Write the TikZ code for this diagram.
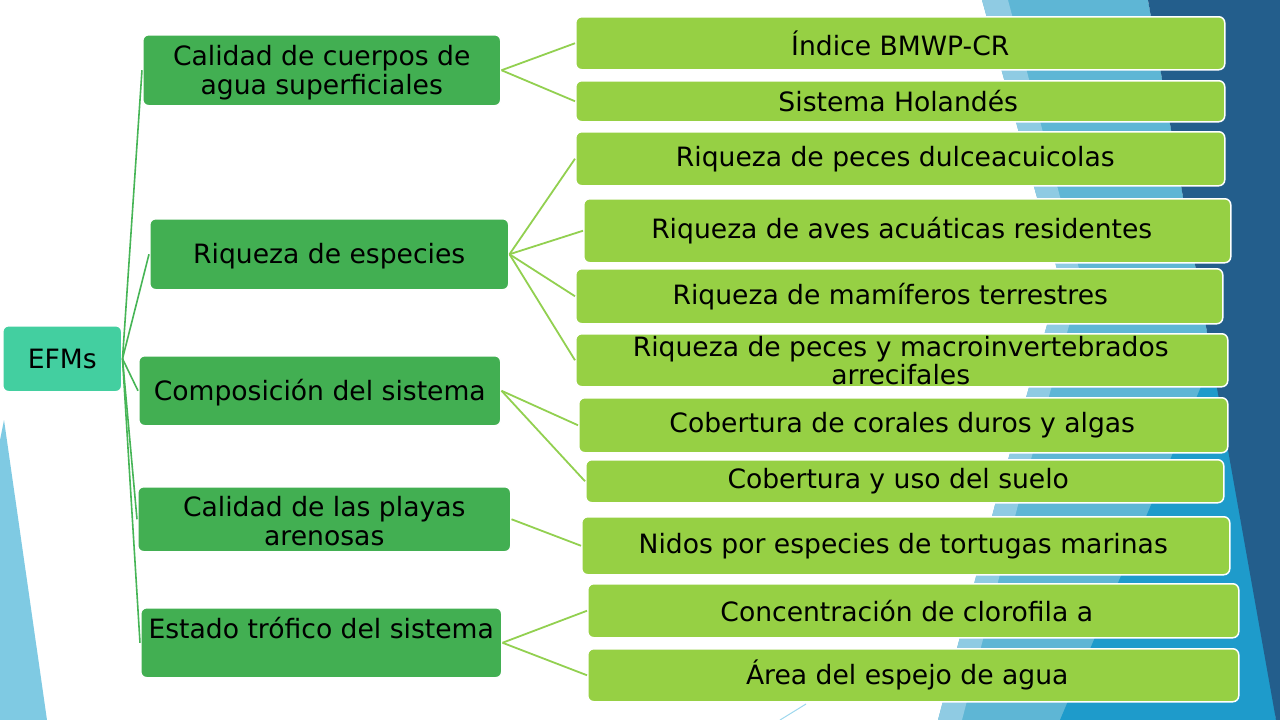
\documentclass[tikz,border=0pt]{standalone}
\usepackage{fontspec}
\setmainfont{DejaVu Sans}
\definecolor{efmcol}{HTML}{43CFA0}
\definecolor{lvtwocol}{HTML}{42AF52}
\definecolor{lvthreecol}{HTML}{96D044}
\definecolor{linkAcol}{HTML}{46B556}
\definecolor{linkBcol}{HTML}{92D050}
\definecolor{bandlight}{HTML}{5EB6D5}
\definecolor{bandpale}{HTML}{8FCBE3}
\definecolor{bandmid}{HTML}{1E9BCB}
\definecolor{banddark}{HTML}{235E8C}
\definecolor{tricol}{HTML}{7FCAE3}
\definecolor{thinln}{HTML}{9ED8EE}
\newcommand{\lft}[1]{\hspace*{#1pt}}
\newcommand{\tall}[1]{\rule{0pt}{#1pt}}
\begin{document}
\begin{tikzpicture}[x=1pt,y=-1pt,
  boxbase/.style={draw=white, line width=1.5pt, rounded corners=6pt, inner sep=0pt,
    align=center, anchor=north west, text=black,
    font=\fontsize{26.6}{29}\selectfont},
  efmbox/.style={boxbase, fill=efmcol},
  lvtwo/.style={boxbase, fill=lvtwocol},
  lvthree/.style={boxbase, fill=lvthreecol},
  linkA/.style={draw=linkAcol, line width=1.6pt},
  linkB/.style={draw=linkBcol, line width=1.8pt}]
\useasboundingbox (0,0) rectangle (1280,720);
\fill[white] (0,0) rectangle (1280,720);
% background theme shapes
\fill[bandlight] (982,0) -- (1148,0) -- (1276,720) -- (938,720) -- (995,505) -- (1060,280) -- cycle;
\fill[bandpale] (982,0) -- (1008,0) -- (1082,280) -- (1018,505) -- (962,720) -- (938,720) -- (995,505) -- (1060,280) -- cycle;
\fill[bandmid] (1225,330) -- (1276,720) -- (1060,720) -- cycle;
\fill[banddark] (1148,0) -- (1280,0) -- (1280,720) -- (1276,720) -- cycle;
\fill[tricol] (4,420) -- (47,720) -- (0,720) -- (0,440) -- cycle;
\draw[thinln, line width=1pt] (780,720) -- (806,704);

% root
\node[efmbox, minimum width=119pt, minimum height=66pt] (efm) at (2,325) {EFMs};

% level two
\node[lvtwo, minimum width=358pt, minimum height=71pt] (b1) at (142,34) {\tall{26}Calidad de cuerpos de\\agua superficiales};
\node[lvtwo, minimum width=359pt, minimum height=71pt] (b2) at (149,218) {\tall{25}Riqueza de especies};
\node[lvtwo, minimum width=362pt, minimum height=70pt] (b3) at (138,355) {\tall{26}Composición del sistema};
\node[lvtwo, minimum width=373pt, minimum height=65pt] (b4) at (137,486) {\tall{23}Calidad de las playas\\arenosas};
\node[lvtwo, minimum width=361pt, minimum height=70pt] (b5) at (140,607) {Estado trófico del sistema\\\mbox{}};

% level three
\node[lvthree, minimum width=649pt, minimum height=53pt] (c1) at (575,16) {Índice BMWP-CR};
\node[lvthree, minimum width=649pt, minimum height=41pt] (c2) at (575,80) {Sistema Holandés\lft{4}};
\node[lvthree, minimum width=649pt, minimum height=54pt] (c3) at (575,131) {Riqueza de peces dulceacuicolas\lft{10}};
\node[lvthree, minimum width=647pt, minimum height=64pt] (c4) at (583,198) {Riqueza de aves acuáticas residentes\lft{11}};
\node[lvthree, minimum width=647pt, minimum height=55pt] (c5) at (575,268) {Riqueza de mamíferos terrestres\lft{18}};
\node[lvthree, minimum width=652pt, minimum height=53pt,
      font=\fontsize{26.6}{28}\selectfont] (c6) at (575,333) {Riqueza de peces y macroinvertebrados\lft{2}\\arrecifales\lft{2}};
\node[lvthree, minimum width=649pt, minimum height=55pt] (c7) at (578,397) {Cobertura de corales duros y algas\lft{2}};
\node[lvthree, minimum width=638pt, minimum height=43pt] (c8) at (585,459) {Cobertura y uso del suelo\lft{13}};
\node[lvthree, minimum width=648pt, minimum height=58pt] (c9) at (581,516) {Nidos por especies de tortugas marinas\lft{5}};
\node[lvthree, minimum width=651pt, minimum height=54pt] (c10) at (587,583) {Concentración de clorofila a\lft{13}};
\node[lvthree, minimum width=651pt, minimum height=53pt] (c11) at (587,648) {Área del espejo de agua\lft{12}};

% connectors root -> level two
\foreach \t in {b1,b2,b3,b4,b5}
  \draw[linkA] (efm.east) -- (\t.west);

% connectors level two -> level three
\draw[linkB] (b1.east) -- (c1.west);
\draw[linkB] (b1.east) -- (c2.west);
\draw[linkB] (b2.east) -- (c3.west);
\draw[linkB] (b2.east) -- (c4.west);
\draw[linkB] (b2.east) -- (c5.west);
\draw[linkB] (b2.east) -- (c6.west);
\draw[linkB] (b3.east) -- (c7.west);
\draw[linkB] (b3.east) -- (c8.west);
\draw[linkB] (b4.east) -- (c9.west);
\draw[linkB] (b5.east) -- (c10.west);
\draw[linkB] (b5.east) -- (c11.west);
\end{tikzpicture}
\end{document}
